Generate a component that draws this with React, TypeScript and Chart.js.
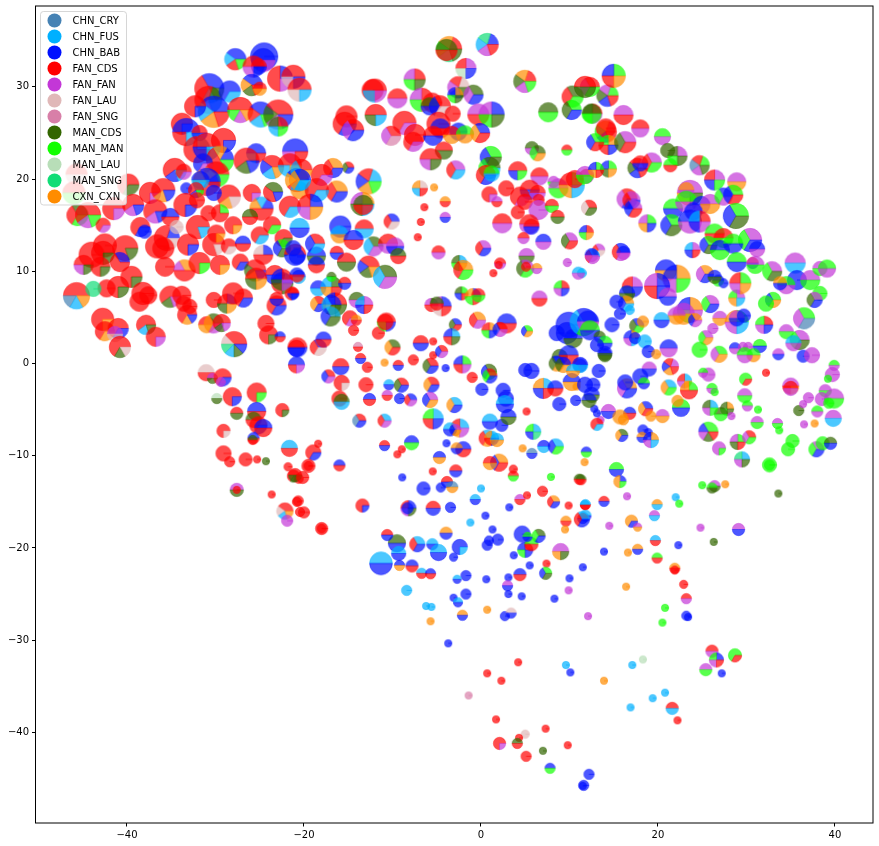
import React, { useEffect, useRef } from "react";
import { Chart, registerables } from "chart.js";

Chart.register(...registerables);

const categories = ["CHN_CRY","CHN_FUS","CHN_BAB","FAN_CDS","FAN_FAN","FAN_LAU","FAN_SNG","MAN_CDS","MAN_MAN","MAN_LAU","MAN_SNG","CXN_CXN"];
const categoryColors = ["#4682b4","#00b0ff","#0010ff","#ff0000","#c337d7","#e0b8b8","#d87fa8","#336600","#11ff00","#b8deb8","#11dd77","#ff8c00"];
// letters index the categories: A=CHN_CRY ... L=CXN_CXN; each row is [x, y, r, composition]
type Row = [number, number, number, string];

const south: Row[] = [
[-11.3,-21.67,11.7,"BC"],[-9.5,-19.5,9,"HC"],[-9.3,-20.6,7.5,"BC"],[-7.2,-19.6,8,"BDC"],[-5.5,-19.6,6,"BC"],[-4.8,-20.5,8.5,"BC"],[-2.4,-19.9,8,"CCCB"],[.7,-19.7,5.5,"C"],[1.9,-19.1,6,"C"],[.9,-19.2,5,"C"],[-3.1,-21,4.5,"C"],[-9.2,-21.9,5.5,"CL"],[-7.8,-21.96,6.5,"CD"],[-6.7,-22.75,5.5,"BD"],[-5.7,-22.8,5.5,"CD"],[-8.4,-24.6,5.5,"B"],[-1.7,-23,5.5,"C"],[-2.7,-23.4,4.5,"BC"],[.6,-23.4,4,"C"],[3.1,-23.2,4,"C"],[4.4,-22.9,6.5,"CD"],[3,-24.1,5.5,"EC"],[3.1,-25,4,"C"],[4.6,-25.25,4,"C"],[-1.7,-25,5.5,"C"],[-3.1,-25.4,4,"C"],[-2.6,-25.9,5,"BC"],[-6.2,-26.3,4,"B"],[-5.6,-26.4,4,"B"],[-5.7,-27.96,4,"L"],[-2.1,-27.3,5.5,"LC"],[.7,-26.7,4,"L"],[2.7,-27.4,5,"C"],[3.4,-27.06,5.5,"FC"],[-3.7,-30.35,4,"C"],[4.2,-32.4,4,"D"],[.7,-33.6,4,"D"],[2.3,-34.4,4,"D"],[-1.4,-36,4,"G"],[1.7,-38.6,4,"D"],[7.3,-39.6,4,"D"],[5,-40.2,4.5,"F"],[4.3,-40.6,4,"D"],[4.1,-41.2,5.5,"HD"],[2.1,-41.2,6.5,"DDDE"],[9.8,-41.4,4,"D"],[5.1,-42.6,5.5,"D"],[7,-42,4,"H"],[7.8,-43.9,5.5,"CI"],[12.2,-44.55,5.5,"C"],[11.6,-45.75,5.5,"C"],[11.5,-45.8,4,"C"],[9.6,-32.7,4,"B"],[10.1,-33.5,4,"C"],[13.9,-34.4,4,"L"],[17.1,-32.7,4,"B"],[18.3,-32.1,4,"J"],[20.8,-35.7,4,"B"],[19.4,-36.3,4,"B"],[16.9,-37.3,4,"B"],[21.6,-37.4,6.5,"DB"],[22.2,-38.7,4,"D"],[26.1,-31.2,6.5,"DE"],[26.6,-32.15,7.5,"CIED"],[25.4,-33.2,6.5,"EI"],[27.2,-33.6,4,"C"],[28.7,-31.65,7,"IID"],[20.8,-26.5,4,"I"],[20.5,-28.1,4,"I"],[23.2,-27.35,5,"C"],[23.4,-27.5,4,"C"],[23.2,-25.5,5.5,"DE"],[22.9,-23.95,4.5,"D"],[21.9,-22.2,5.5,"LD"],[21.9,-22.4,4.5,"D"],[19.9,-21.1,5.5,"ID"],[19.7,-19.2,5.5,"BD"],[17.7,-20.15,5.5,"LC"],[16.6,-20.5,4,"L"],[16.4,-24.2,4,"L"],[22.3,-19.7,4,"C"],[26.3,-19.35,4,"H"],[13.9,-20.4,4,"C"],[11.5,-22.1,4,"C"],[10,-23.3,4,"C"],[9.9,-24.6,4,"E"],[8.3,-25.5,4,"C"],[12.1,-27.4,4,"E"],[5.5,-21.9,4,"C"],[7.4,-21.7,4,"D"],[7.3,-22.75,6.5,"ICH"],[3.7,-20.8,4,"C"],[9,-20.4,8.5,"EELH"],[5,-20.2,8,"DCIC"],[5.7,-19.6,7,"ID"],
];

const southEast: Row[] = [
[11.9,-9.6,5.5,"CI"],[11.7,-10.7,4,"L"],[11.3,-12.6,5.5,"HD"],[15.3,-11.5,7.5,"IC"],[15.7,-12.8,6.5,"CLLI"],[13.9,-14.95,5.5,"DC"],[16.5,-14.4,4,"E"],[11.8,-15.3,5.5,"BD"],[11.8,-16.5,6,"BC"],[11.5,-16.8,5.5,"DC"],[14.5,-17.6,4,"E"],[17,-17.1,6.5,"LLC"],[17.7,-17.75,4.5,"EL"],[19.9,-15.3,5.5,"LB"],[19.6,-16.5,5.5,"EB"],[22,-14.5,4,"B"],[22.4,-15.2,4,"I"],[24.8,-17.8,4,"E"],[29.1,-18,6.5,"EC"],[33.6,-14.1,4,"H"],[25,-13.2,4,"I"],[26.4,-13.3,6,"EH"],[26.1,-13.5,5.5,"IH"],[27.6,-13.1,4,"L"],[32.6,-11,7.5,"I"],[32.6,-11,5.5,"I"],[29.5,-10.4,8,"BKEH"],[26.9,-9.2,7,"EEEI"],[25.7,-7.4,10,"IICEHD"],[29,-8.5,8,"IEHD"],[30.3,-8,7,"DEI"],[31.2,-6.4,6.5,"EI"],[33.5,-6.5,5.5,"EI"],[33.7,-7.25,4,"I"],[36.5,-6.6,4,"E"],[37.7,-6.5,4,"L"],[35.2,-8.4,7,"I"],[34.7,-9.3,7,"I"],[37.9,-9.3,8,"EIC"],[38.6,-8.65,7,"I"],[39.5,-8.65,6.5,"HC"],[39.8,-5.95,8.5,"EB"],[35.9,-5.1,5.5,"H"],[38,-5.2,6,"IE"],[36.4,-4.4,4,"E"],[37,-3.7,5.5,"E"],[38.9,-2.95,6.5,"EI"],[38.5,-3.85,7,"E"],[39.9,-3.8,10,"EI"],[39.3,-4.3,5.5,"I"],[39.7,-1.2,7.5,"E"],[39.9,-.2,5.5,"IE"],[39.2,-1.65,4,"I"],[35,-2.45,8.5,"EEDL"],[35,-2.7,7.5,"DE"],[32.2,-1,4,"D"],[29.9,-1.7,6.5,"IID"],[29.8,-3.5,7.5,"EI"],[30.1,-4.6,5.5,"IE"],[31.3,-5,4,"I"],[27.8,-4.9,7,"LHIH"],[27.1,-5.5,7,"HI"],[28.3,-5.7,4,"E"],[25.9,-4.8,8,"BHEI"],[26.1,-2.7,5.5,"IE"],[26.4,-3.1,4,"I"],[25.7,-1.2,7,"E"],[25.1,-1,5,"IE"],[22.6,-4.8,9,"IC"],[22.2,-4.05,6,"L"],[21.2,-2.6,8,"BLI"],[23,-1.9,7.5,"BDEL"],[23.5,-2.9,9,"ILDD"],[21.4,-.35,8.5,"EDCLD"],[20.5,-5.7,7,"EL"],[18.6,-4.9,7.5,"CLD"],[19.2,-5.7,5.5,"L"],[16.8,-5.4,6.5,"CD"],[14.4,-5.2,7.5,"EC"],[15.7,-5.8,7.5,"L"],[16.1,-6.1,5.5,"L"],[13.5,-6.1,4,"E"],[12.8,-4.9,4,"C"],[13.1,-5.4,4,"C"],[13.1,-6.6,6.5,"DDB"],[15.9,-7.8,6.5,"HLC"],[18.3,-7.2,5.5,"C"],[18.9,-7.5,4.5,"C"],[18.2,-8,5.5,"LC"],[19.2,-8.3,8,"LCEB"],[16.5,-2.7,10,"LEC"],[16.3,-2.05,8,"C"],[18,-1.4,8,"C"],[18.4,-2.15,6,"IC"],[19,-.6,7.5,"EC"],[13.3,-.8,7,"C"],[12.7,-2.3,7,"C"],[12.5,-3.4,8,"CH"],[11.2,-.2,7,"C"],[14,.9,7,"CH"],
];

const middle: Row[] = [
[-2.2,7.6,7,"IHCD"],[-.9,7.25,8.5,"CLID"],[-.3,7.4,7,"DI"],[-5.6,6.35,7,"HEDD"],[-4.45,6.2,10,"CEFD"],[-5,6.5,7,"HD"],[6.6,7.05,8,"ED"],[9.1,8.15,8,"DIEC"],[-.4,4.7,8.5,"LDE"],[-2.9,4.2,6.5,"CHD"],[-3.3,2.9,8.5,"BCDH"],[2.9,4.35,10,"CD"],[.95,3.6,8,"LDIC"],[2.15,3.7,7.5,"DCE"],[5.2,3.5,6,"ICL"],[5,-.7,7,"C"],[5.7,-.8,8,"C"],[7.05,-2.7,10.5,"BLCD"],[8.4,-2.7,8,"CD"],[8.85,-4.4,7,"C"],[10.7,-4,5.5,"C"],[9.9,4.2,13,"C"],[9.7,3.3,11,"C"],[10.4,2.7,9.5,"CH"],[8.55,3.3,8,"C"],[11.6,4.5,14,"CBI"],[8.9,.7,8,"HC"],[9.9,.9,10,"CD"],[8.55,0,8,"CHL"],[9.3,-.15,8,"CHL"],[11.2,-.15,8,"CB"],[10.25,-2,9,"CL"],[10.8,-2.5,4,"L"],[12.2,-4,7.5,"CH"],[11.75,-2.3,8,"C"],[10.4,-.8,7,"BL"],
];

const east: Row[] = [
[14.3,29.05,11,"IEHCD"],[12.3,30,10,"DEI"],[15,31.2,12,"ICDL"],[12.6,27.1,10,"DHIE"],[16.1,26.95,10,"ED"],[14.1,25.15,11,"DLICD"],[14.1,25.5,10,"D"],[14.4,23.7,10,"LIDC"],[16.3,24,11,"EHD"],[18,25.5,9,"DE"],[20.5,24.6,8.5,"IE"],[21.1,23.1,7.5,"H"],[22.2,22.5,10,"EHIH"],[21.4,21.5,7,"ID"],[19.3,21.8,10,"EDI"],[17.7,21.2,10,"EDHCD"],[18,21.7,8,"DC"],[14.4,21.1,8.5,"ICHL"],[11.9,20.3,7.5,"DE"],[24.7,21.5,10,"IDAEH"],[26.4,19.9,10.5,"EDCI"],[28.9,19.7,9.5,"EL"],[12.2,16.9,8,"DFH"],[16.5,17.85,10.5,"DEC"],[17,17.7,9,"EDC"],[17.2,16.8,9,"ECD"],[18.8,15.2,9,"IELC"],[11.9,14.2,7.5,"DCIL"],[13.3,12.3,6.5,"EDF"],[12.6,11.6,7.5,"BDE"],[15.8,12.1,9,"CDE"],[16.1,12,7,"CE"],[23.9,12.3,8,"EBCD"],[11.4,9.8,5,"B"],[23.6,18.5,13,"EELH"],[23.2,18.8,8,"LE"],[21.7,16.8,10,"IC"],[23.2,17.55,11,"IE"],[24.9,17.2,9,"CE"],[25.9,17.3,10,"EL"],[27.4,18.1,9,"CIE"],[28.5,18.3,10,"ICD"],[28.8,16,13,"ICH"],[21.5,15,11,"ICH"],[24,16.5,9,"C"],[23.6,15.4,12,"CE"],[24.7,15.4,11,"DBCE"],[26.4,14.1,10,"ID"],[27.4,13.6,10,"DI"],[25.7,12.85,9,"ICH"],[27,12.3,10,"CI"],[30.4,13.4,12,"EIC"],[28.5,13,10,"IC"],[31.2,12.4,8,"CE"],[28.9,11,10,"IC"],[30.7,10.9,6,"DC"],[31,10.7,9,"EI"],[32.9,10,10,"EIH"],[35.5,10.9,10.5,"EB"],[35.7,9.05,10,"C"],[34.5,8.5,9,"IE"],[33.8,8.7,7,"LC"],[37.2,9.05,10,"EI"],[38.3,10.3,7.5,"EI"],[39.1,10.3,9,"IE"],[38.3,7.6,7.5,"I"],[37.7,6.9,8,"EHC"],[36.5,4.9,11,"IEA"],[33,6.9,8,"ICL"],[32.2,6.5,8,"I"],[28.9,7.1,8.5,"EILB"],[29.3,8.7,11,"IDEL"],[26.8,9,6,"CI"],[27.4,8.7,5,"C"],[25.3,9.7,9,"LEC"],[26.4,9.4,7,"CH"],[20.9,10.1,11,"CL"],[22.1,9.2,14,"LCEI"],[19.9,8.4,13,"CEDC"],[17.1,8.3,10.5,"EDHC"],[16.5,7.6,8,"CH"],[15.3,6.7,7,"C"],[21.1,7.25,9,"EC"],[16.4,6.5,8,"LCB"],[16.8,5.8,5,"B"],[15.7,5.4,6,"C"],[25.9,6.45,9,"EIC"],[27,4.9,7.5,"EL"],[23.6,5.8,13,"LCIE"],[22.9,5.4,11,"EL"],[22.1,5.2,9,"EL"],[24.2,4.7,7,"LCE"],[20.4,4.7,8,"BC"],[28.9,4.5,12,"ILEB"],[28.9,4.9,8,"EC"],[29.7,5.2,7,"C"],[32,4.2,9,"DIEC"],[26.2,3.8,5.5,"E"],[25.4,2.8,7.5,"EIL"],[24.7,1.5,8,"I"],[34.5,3.45,7.5,"EI"],[36,2.55,10,"EIH"],[35.3,2.2,8,"BE"],[33.6,1,6,"EC"],[36.4,.8,6.5,"C"],[37.4,.9,8,"E"],[26.9,1,8.5,"IEL"],[28.7,1.65,6,"CE"],[29.6,1.8,5,"E"],[30.2,1.8,5,"E"],[31.5,1.9,7,"IC"],[30.8,.9,7,"IL"],[29.8,.9,8,"IE"],[12.1,4.55,11,"CE"],[12.3,3.6,10,"IC"],[13.4,2.9,6,"HC"],[14.8,4.2,7.5,"C"],[17.6,4.1,7.5,"CHI"],[18.3,4.55,6,"L"],[14,2.2,7.5,"IC"],[13.1,2,7,"C"],[14,1.1,7.5,"CH"],[17,2.75,8,"LCEB"],[17.4,2.75,6,"C"],[18.5,2.4,7,"B"],[21.2,1.65,9,"CE"],[18.9,1.3,6.5,"C"],[19.8,1,5,"L"],
];

const northWest: Row[] = [
[-27.75,33,11,"CCBDI"],[-24.5,33.3,14,"C"],[-24.6,32.9,12,"CCE"],[-25.1,32.2,8,"DC"],[-25.7,32.2,11,"DDEC"],[-22.7,30.9,13,"CDDE"],[-21.2,31.1,12,"DDFC"],[-20.5,29.7,12,"DDFB"],[-25.9,30.2,11,"CCLHD"],[-25,29.8,7,"DL"],[-30.7,29.85,15,"CCDDBH"],[-30.8,28.6,14,"HDDFB"],[-30.2,27.3,16,"CCBLD"],[-28.4,29.5,11,"CCB"],[-27.2,27.5,13,"DDDIEL"],[-32.3,27.9,11,"DDDC"],[-24.9,27,13,"CCDBI"],[-22.9,27,15,"DDHEC"],[-22.9,25.7,10,"DHBI"],[-33.8,26,11,"DDDC"],[-33.3,25.1,14,"CCDB"],[-31.8,25,8,"DC"],[-29.1,24.2,12.5,"DDDC"],[-32.1,23.2,13.5,"ADDD"],[-31,23.5,14,"DDCB"],[-25.4,22.8,10,"CCBD"],[-21,23,13,"CCED"],[-29.5,22.1,14,"CLDDDI"],[-26.5,22,13,"DDDHC"],[-31.4,21.7,10,"CCE"],[-34.6,21,12,"DDDCB"],[-33.6,20.8,8,"DDE"],[-29.9,20.5,13,"DDLCI"],[-31,19.7,14,"CCLBDD"],[-31.7,19.9,9,"CB"],[-23.6,21.3,12,"DDCBL"],[-21.6,21.5,12,"DDBL"],[-20.8,19.9,12,"CCLDB"],[-20.5,18.8,9,"BL"],[-45.7,20.5,11,"DF"],[-46,18.5,11.5,"DI"],[-45.6,16.1,11,"HDI"],[-44.4,16.1,13,"DDDEI"],[-42.7,15,7.5,"DDE"],[-39.85,19.4,11,"DDH"],[-41.5,16.8,11.5,"DDDE"],[-37.4,18.5,11,"DDDE"],[-35.9,18.8,12,"DDDLC"],[-39.3,17.2,11,"DDDEC"],[-36.8,16.5,12,"DDDEC"],[-38.5,14.8,10,"DDC"],[-38,14.3,7,"C"],[-35.1,15.9,9,"CD"],[-33.3,19,6,"C"],[-32.2,18.8,8,"DDDCI"],[-33.4,17.2,12,"DDDC"],[-32.1,17.7,8,"D"],[-28.5,18.1,12,"DDDLF"],[-25.9,18.5,9,"DDDE"],[-24.8,16.8,12,"CBLDDD"],[-23.5,18.6,10,"HHDDC"],[-21.6,17,11,"DDB"],[-30.2,18.5,8,"C"],[-29.5,16.3,9,"IDDD"],[-28,15,9,"DDDL"],[-30.8,16.3,8,"D"],[-32,14.8,12,"DDDDB"],[-35.5,13.6,13,"CDDDF"],[-35.9,12.5,11,"D"],[-34.4,14.8,7,"F"],[-36.6,12.7,12,"D"],[-33.1,12.9,11,"DDDC"],[-30.2,12.9,11.5,"DDDDF"],[-29.9,14.1,9,"DDDL"],[-28.5,12.7,8,"DDF"],[-26.9,13,8,"CD"],[-25,13.9,9,"DDB"],[-24.6,11.8,10,"CFDD"],[-23.6,15,9,"DDI"],[-26.1,15.9,8,"HD"],[-22.3,13.6,9,"DDH"],[-22.5,12.5,9,"ICH"],[-21,11.8,11,"DC"],[-20.5,14.7,10,"BC"],[-42.5,12.8,12,"D"],[-44,11.8,13,"D"],[-42.7,12,12,"DDDH"],[-40.2,12.5,13,"DDDDH"],[-44.9,10.7,10,"DDEH"],[-40.8,11,10,"CDD"],[-43,10.5,10,"DDDH"],[-35.7,10.5,10,"D"],[-33.5,10.1,11,"LLEDDD"],[-31.8,10.9,11,"DDDI"],[-29.5,10.7,10,"DDDL"],[-27.2,11,8.5,"DDC"],[-25.5,10.1,11,"DDHLC"],[-23.3,9.6,10,"DC"],
];

const west: Row[] = [
[-45.7,7.35,13.5,"DDDABL"],[-42.3,8.15,9,"D"],[-41,8.3,11,"DDDH"],[-43.8,8.1,8,"K"],[-39.5,9.4,11,"DDDH"],[-38.2,7.6,11.5,"D"],[-38.6,6.7,10,"D"],[-37.6,7.4,9,"D"],[-35.1,7.25,11,"DDDHE"],[-33.8,7.4,9.5,"D"],[-33.6,6.5,8,"D"],[-32.9,6.2,7.5,"D"],[-33.2,5.3,10,"DDDDLC"],[-30.2,6.9,8,"D"],[-28.7,6.5,10,"CDHL"],[-28,7.6,11,"D"],[-26.85,7.1,9.5,"DDC"],[-42.75,4.8,11.5,"DDDL"],[-42.5,3.5,10,"DDL"],[-41,3.8,10.5,"DDC"],[-41.35,3.2,8,"EF"],[-40.8,1.8,11,"DDDDHF"],[-37.85,4.2,10,"DDDBH"],[-36.75,2.9,10,"DDDE"],[-31,4.2,8.5,"DL"],[-30.2,4.35,10,"HLE"],[-29.3,4.4,9,"DDDHE"],[-27.9,2.1,13,"DDDFKBHC"],[-24.3,4.35,8.5,"D"],[-24,3.1,9.5,"DDDH"],[-22.7,2.9,5.5,"CD"],[-23.1,6.3,10,"DDC"],[-23.1,7,7,"DC"],[-22.45,8.7,11,"CCDH"],[-21.4,7.6,7,"DDDC"],[-20.85,1.65,8.5,"DC"],[-20.85,-.15,8.5,"CCDE"],[-31.05,-1,8.5,"FD"],[-30.35,-1.6,5.5,"EH"],[-29.2,-1.5,9,"DDC"],[-29.4,-2,5,"E"],[-29.85,-3.8,5.5,"JH"],[-28.1,-3.6,9.5,"DDDC"],[-25.35,-3.15,10,"DDDI"],[-27.6,-5.4,6.5,"DH"],[-25.35,-5.2,9.5,"CD"],[-22.45,-5.05,7,"DDDH"],[-25.7,-6.1,8,"HD"],[-25.15,-6.7,9,"DDC"],[-24.6,-7,9,"CD"],[-25.7,-8.1,6,"CD"],[-25.8,-8.3,5,"HD"],[-29.1,-7.3,7,"DDDF"],[-29.1,-9.75,8,"D"],[-28.4,-10.65,5.5,"D"],[-26.6,-10.4,7,"D"],[-25.3,-10.4,4,"D"],[-24.3,-10.6,4,"H"],[-21.65,-9.2,8.5,"BD"],[-21.8,-11.2,4.5,"D"],[-21.2,-12.2,6.5,"DDH"],[-20.6,-12.5,5,"D"],[-27.6,-13.7,7,"EH"],[-27.6,-13.7,4,"D"],[-23.65,-14.2,4,"D"],[-20.8,-15,5,"D"],[-22.15,-16,8.5,"DDFBL"],[-21.9,-17.05,6,"E"],[-20.45,-16.1,5,"D"],
];

const center: Row[] = [
[-21.2,7.6,6,"DC"],[-18.4,8.15,8,"CB"],[-16.9,8.3,11,"HBLD"],[-15.4,8.7,6.5,"DC"],[-18.4,6.45,8,"DLC"],[-16.5,6.4,12,"DCLH"],[-16.9,6.35,10,"CBH"],[-17,5.1,10,"BCH"],[-14.05,6.9,8,"HE"],[-13.2,6.35,9,"EBCD"],[-14.8,4.9,8,"DDE"],[-14.1,4.7,5.5,"LD"],[-14.4,3.6,5.5,"D"],[-11.6,3.3,6.5,"D"],[-10.7,4.5,9.5,"DDIC"],[-10.8,4.5,8,"D"],[-20.75,1.75,10,"DC"],[-18.4,1.75,8.5,"CDF"],[-17.8,2.6,8,"CD"],[-13.9,1.8,5,"GD"],[-13.6,.55,5.5,"DC"],[-12.85,-.4,5.5,"D"],[-10.9,.1,4,"L"],[-10,1.75,8,"HLD"],[-9.35,-.2,5.5,"DC"],[-7.65,.4,5.5,"D"],[-5.4,2.4,4,"D"],[-6.8,2.2,8,"DC"],[-5.4,.9,4,"D"],[-4.45,1.3,6.5,"DCE"],[-5.7,-.25,8,"DHC"],[-4,-.5,4,"C"],[-2.1,-.1,9,"ICDE"],[.9,-.9,8,"HCI"],[1,-1.35,7.5,"DIC"],[-1,-1.5,5.5,"D"],[.1,-2.8,6.5,"C"],[-5.6,-2.3,8,"DLC"],[2.5,-2.9,7.5,"C"],[2.8,-3.8,8,"C"],[2.7,-4.4,9,"BC"],[-10.4,-2.3,5.5,"BC"],[-9,-2.35,7.5,"DHC"],[-13,-2.3,7.5,"D"],[-15.85,-.35,8.5,"DC"],[-17.25,-1.4,7,"DCE"],[-15.75,-2.1,8,"DDDF"],[-16,-3.8,8,"D"],[-15.75,-4.15,8,"HB"],[-12.6,-3.9,6.5,"CD"],[-10.6,-3.45,5.5,"ED"],[-9.2,-3.8,5.5,"C"],[-7.95,-3.95,6.5,"CDE"],[-5.75,-3.95,8,"ECL"],[-3,-4.5,8,"BLC"],[-5.4,-6,10.5,"BIDC"],[-13.75,-6.2,7,"DAC"],[-10.9,-6.2,7,"BDE"],[-2.4,-7,9.5,"BDLE"],[-3.5,-7.15,7,"BC"],[-2.9,-7.2,6,"ECL"],[1,-6.3,8,"BC"],[2.35,-6.7,6.5,"C"],[3.1,-5.8,8,"CH"],[5.15,-5.2,4,"D"],[.7,-8.1,8.5,"BDL"],[1.2,-8.1,7.5,"BLDC"],[1.8,-8.3,7,"BL"],[5.9,-7.4,8,"BICK"],[-3.9,-8.65,4,"C"],[-2,-9.3,8,"CD"],[-2.75,-9.2,6,"LC"],[-7.85,-8.6,7.5,"CI"],[-10.9,-8.9,5.5,"DC"],[-8.95,-9.3,4,"D"],[-9.45,-9.85,4,"D"],[-4.7,-10.2,6.5,"CL"],[-5.45,-11.7,4,"D"],[-2.85,-11.65,6.5,"DC"],[2.05,-10.75,9,"LCD"],[1,-10.8,7,"DL"],[4.7,-9.2,4,"L"],[5.75,-9.75,5.5,"AC"],[7.1,-9,6.5,"CB"],[8.45,-9,8,"BCI"],[3.65,-11.45,4.5,"D"],[3.65,-12.2,5.5,"DI"],[7.9,-12.3,4,"I"],[11.1,-12.55,5.5,"HD"],[-8.9,-12.35,4,"C"],[-6.5,-13.55,7,"C"],[-4.55,-13.45,5,"C"],[-3.85,-12.85,6,"DC"],[-3.25,-13.4,6,"AL"],[0,-13.55,4,"B"],[-.65,-14.75,5.5,"BC"],[4.4,-14.75,5.5,"ED"],[5.2,-14.3,4,"D"],[6.95,-13.85,5.5,"D"],[8.2,-15,6.5,"LDC"],[9.9,-15.4,4,"D"],[11.75,-15.35,5,"BD"],[9.6,-17.1,5.5,"LD"],[9.5,-18,4,"L"],[11.4,-16.9,8,"BDC"],[3.2,-15.6,4,"C"],[-13.4,-15.4,7,"DDDC"],[-8.2,-15.7,8,"CDEH"],[-8.3,-15.7,6,"C"],[-5.4,-15.7,7.5,"DC"],[-3.45,-15.6,5.5,"C"],[.5,-16.5,4,"C"],[-1.2,-17.25,4,"B"],[-3.95,-18.4,6.5,"LC"],[1.3,-18,4,"C"],[4.65,-18.5,8.5,"C"],[6.5,-18.7,7,"HIC"],[5.25,-18.8,5,"IC"],[-10.6,-18.6,6,"DC"],[-20.65,-14.9,5.5,"D"],[-20,-16.15,6,"D"],[-18,-17.9,6.5,"D"],[-18,-17.9,5,"D"],[-18.4,-8.7,4,"D"],[-18.95,-9.65,8,"DDC"],[-19.5,-11.1,7,"D"],[-19.5,-11.1,5,"D"],[-16,-11.05,6,"CD"],[-21,-12.1,7,"DH"],[-20.15,-12.35,6.5,"D"],
];

const north: Row[] = [
[-3.6,34.1,13,"DLIKH"],[-3.9,34,11,"HD"],[.7,34.6,11.5,"CKBED"],[-1.7,32,10.5,"EDJC"],[-2.55,29.95,11,"FDECH"],[-.85,29.15,10,"HEC"],[-2.9,29.1,8,"LCIH"],[-7.5,30.8,11,"DEIH"],[-12.25,29.65,11,"D"],[-12,29.6,12,"DDBE"],[-9.45,28.75,10,"DE"],[-6.7,28.6,12,"DEIL"],[-5.5,28.3,10,"D"],[-5.8,27.9,9,"HC"],[-4.65,27.9,11,"DCF"],[-3.2,27.1,8,"D"],[-.3,27,11,"ED"],[1.2,27,13,"CEIH"],[-15.2,26.8,11,"D"],[-15.4,26,12,"DDC"],[-14.45,25.3,11,"DEC"],[-11.9,26.95,11,"DDHB"],[-8.65,26.1,12,"DDE"],[-10.15,24.7,10,"DEG"],[-7.45,24.8,11,"D"],[-7.65,24.05,10,"DDE"],[-4.8,26,12,"D"],[-4.6,25.5,10,"CD"],[-5.4,24.7,10,"DC"],[-2.55,25.15,9,"C"],[-3.3,24.8,9,"DL"],[-1.8,24.85,9,"IL"],[-.1,25,10,"CLD"],[-4.2,23.1,9,"DH"],[-5.7,22.15,11,"DDEH"],[-2.85,21,9.5,"EDB"],[1.1,22.4,11,"ICH"],[.95,21.2,11,"HIB"],[.55,20.45,10,"DDC"],[1.2,20.6,8,"IB"],[4.15,20.9,9.5,"DDCI"],[2.85,19,8,"D"],[.95,18.35,8,"DDDE"],[1.8,17.55,5.5,"ED"],[6.6,20.3,9,"DE"],[8.2,19.7,6,"EI"],[8.75,19,10,"EI"],[10.25,19.35,13,"IDLB"],[10.6,20,9,"D"],[11.75,20.45,9,"EI"],[5.5,18.85,10,"DC"],[4.4,18.1,10,"DDE"],[6.4,18.5,8,"DE"],[4.95,17.55,8,"D"],[6.5,17.75,6,"D"],[6.5,16.65,10,"E"],[2.4,15.2,10,"DE"],[4.15,16.4,7,"D"],[8,17.1,7,"DI"],[5.45,15.1,10,"DE"],[5.7,14.85,8,"DC"],[8.65,15.9,7,"DH"],[4.8,13.6,6,"DE"],[7.05,13.2,8,"CE"],[10,13.3,8.5,"EHD"],[12.5,11.75,7,"CE"],[5.15,11.65,8,"EH"],[5,10.3,9,"EHI"],[5.1,10.5,5,"D"],[6.3,10.3,5.5,"LE"],[9.75,10.95,4.5,"E"],[11,9.8,6.5,"BE"],[2.15,10.85,6,"DE"],[2,10.7,4,"D"],[1.4,9.8,4,"D"],[.25,12.5,8,"EDC"],[-4.8,12.05,7,"DE"],[-2.45,10.9,8,"BHIL"],[-2,10.15,10,"LDI"],[-4.05,17.55,5.5,"LD"],[-5.3,19.1,4,"L"],[-6.9,19,8,"FLBD"],[-6.4,16.95,4,"D"],[-4.05,15.85,5.5,"EC"],[-6.8,15.35,4,"D"],[-7.15,13.7,4,"D"],[-12.7,19.75,13,"BDCLI"],[-15,21.25,6,"DHC"],[-16.7,21.2,10,"LDC"],[-18,20.45,11,"DDE"],[-20.3,21,11,"DBL"],[-16.3,18.65,11,"LDC"],[-18.55,18.8,12,"DDB"],[-20.45,19.9,11,"CLB"],[-19.3,17,13,"CDEL"],[-13.4,17.3,12,"LEHB"],[-13.3,17.2,10,"HD"],[-10.1,15.4,8,"CDF"],[-15.9,14.85,11,"C"],[-16,14,9,"BL"],[-13.2,14.6,9.5,"DB"],[-14.4,13.4,10,"CD"],[-12.15,12.7,10,"HBE"],[-10.5,13,10,"DE"],[-9.7,12.7,9,"EC"],[-9.35,11.65,8,"HD"],[-16.3,12,7,"DC"],[-15.2,11,9.5,"DH"],[-18.6,11.65,9.5,"CH"],[-18.6,10.7,8.5,"CD"],[-12.7,10.5,11,"DDCHL"],[-10.85,9.4,12,"HBE"],[-18.75,13,10,"DCB"],[-21.2,12.5,8,"C"],[-20.8,11.6,8,"C"],[-20.6,9.4,7,"CB"],[-16.9,9.4,5,"HI"],[-25.4,9.2,11,"DDHL"],[-22.5,9.1,11,"DCHE"],[-20.8,9.6,7.5,"CD"],[7.6,27.25,10,"HI"],[10.35,28.95,11,"HDI"],[10.25,27.5,10,"IHC"],[12.5,27.1,10,"HI"],[11.75,30,11,"DH"],[5.75,23.35,7,"HE"],[6.4,22.8,8,"HIL"],[9.7,23.15,5.5,"DI"],[4.95,30.6,11.5,"DLHEI"],[13,21,8,"ICLD"],[12.9,24,9,"ICD"],
];

const regions = [south, southEast, middle, east, northWest, west, center, north];
const allRows: Row[] = regions.flat();
const xTicks = [-40, -20, 0, 20, 40];
const yTicks = [-40, -30, -20, -10, 0, 10, 20, 30];
const FONT = '10px "DejaVu Sans"';

function makeMarker(r: number, mix: string): HTMLCanvasElement {
  const size = Math.ceil(r * 2) + 4;
  const canvas = document.createElement("canvas");
  canvas.width = size;
  canvas.height = size;
  const g = canvas.getContext("2d")!;
  const c = size / 2;
  g.lineWidth = 0.6;
  g.lineJoin = "round";
  g.globalAlpha = 0.7;
  const step = (Math.PI * 2) / mix.length;
  let start = 0;
  let i = 0;
  while (i < mix.length) {
    let j = i;
    while (j < mix.length && mix[j] === mix[i]) j++;
    const end = start + step * (j - i);
    const color = categoryColors[mix.charCodeAt(i) - 65];
    g.fillStyle = color;
    g.strokeStyle = color;
    g.beginPath();
    g.moveTo(c, c);
    // canvas y points down; negative angles sweep counter-clockwise from the +x axis
    g.arc(c, c, r - 0.3, -start, -end, true);
    g.closePath();
    g.fill();
    g.stroke();
    start = end;
    i = j;
  }
  return canvas;
}

const framePlugin = {
  id: "frameAndLegend",
  afterDatasetsDraw(chart: any) {
    const { ctx, chartArea: a } = chart;
    ctx.save();
    ctx.strokeStyle = "#000";
    ctx.lineWidth = 1;
    ctx.strokeRect(a.left - 0.5, a.top - 0.5, a.right - a.left + 1, a.bottom - a.top + 1);
    // legend box
    const lx = 40.5, ly = 11.5, lw = 86, lh = 193.5;
    ctx.beginPath();
    ctx.roundRect(lx, ly, lw, lh, 3);
    ctx.fillStyle = "rgba(255,255,255,0.8)";
    ctx.fill();
    ctx.strokeStyle = "rgba(204,204,204,0.8)";
    ctx.stroke();
    ctx.font = FONT;
    ctx.textBaseline = "middle";
    ctx.textAlign = "left";
    categories.forEach((name, i) => {
      const y = 20.5 + i * 16;
      ctx.beginPath();
      ctx.arc(54.5, y, 7, 0, Math.PI * 2);
      ctx.fillStyle = categoryColors[i];
      ctx.fill();
      ctx.fillStyle = "#000";
      ctx.fillText(name, 72.5, y + 0.5);
    });
    ctx.restore();
  },
};

export default function App() {
  const ref = useRef<HTMLCanvasElement>(null);
  useEffect(() => {
    document.body.style.margin = "0";
    const markers = allRows.map((p) => makeMarker(p[2], p[3]));
    const chart = new Chart(ref.current!, {
      type: "bubble",
      data: {
        datasets: [
          {
            label: "samples",
            data: allRows.map((p) => ({ x: p[0], y: p[1], r: p[2] })),
            pointStyle: (ctx: any) => markers[ctx.dataIndex],
            backgroundColor: "rgba(0,0,0,0)",
            borderWidth: 0,
          } as any,
        ],
      },
      options: {
        animation: false,
        responsive: false,
        devicePixelRatio: 1,
        layout: { autoPadding: false, padding: { top: 6.5, right: 6.5, left: 0, bottom: 0 } },
        plugins: { legend: { display: false }, tooltip: { enabled: false } },
        scales: {
          x: {
            type: "linear",
            min: -50.28,
            max: 44.24,
            afterFit: (s: any) => { s.height = 23.5; s.paddingLeft = 0; s.paddingRight = 0; },
            afterBuildTicks: (s: any) => { s.ticks = xTicks.map((value) => ({ value })); },
            border: { display: false },
            grid: { drawOnChartArea: false, drawTicks: true, tickLength: 4, tickColor: "#000", tickWidth: 1 },
            ticks: {
              color: "#000",
              font: { family: "DejaVu Sans", size: 10 },
              padding: 3,
              maxRotation: 0,
              autoSkip: false,
              callback: (v: any) => String(v).replace("-", "\u2212"),
            },
          },
          y: {
            type: "linear",
            min: -49.78,
            max: 38.72,
            afterFit: (s: any) => { s.width = 36; s.paddingTop = 0; s.paddingBottom = 0; },
            afterBuildTicks: (s: any) => { s.ticks = yTicks.map((value) => ({ value })); },
            border: { display: false },
            grid: { drawOnChartArea: false, drawTicks: true, tickLength: 4, tickColor: "#000", tickWidth: 1 },
            ticks: {
              color: "#000",
              font: { family: "DejaVu Sans", size: 10 },
              padding: 3,
              autoSkip: false,
              callback: (v: any) => String(v).replace("-", "\u2212"),
            },
          },
        },
      },
      plugins: [framePlugin],
    } as any);
    return () => chart.destroy();
  }, []);
  return <canvas ref={ref} width={879} height={846} style={{ display: "block" }} />;
}
